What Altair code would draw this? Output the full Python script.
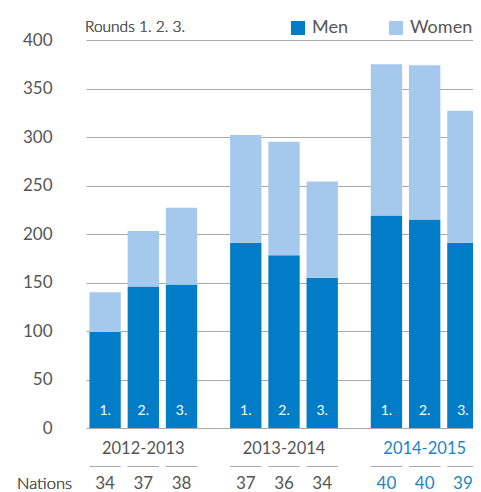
import altair as alt
import pandas as pd

seasons = ["2012-2013", "2013-2014", "2014-2015"]
rounds = ["1.", "2.", "3."]
bar_season = ["2012-2013"] * 3 + ["2013-2014"] * 3 + ["2014-2015"] * 3
bar_round = rounds * 3
men = [99, 146, 148, 191, 178, 155, 219, 215, 191]
women = [41, 57, 79, 111, 117, 99, 156, 159, 136]
nations = [34, 37, 38, 37, 36, 34, 40, 40, 39]
sexes = ["Men", "Women"]

MEN_C = "#007dc6"
WOMEN_C = "#a5c9ec"
GREY = "#555555"
BLUE = "#1a86c8"
FONT = "Lato"

rows = []
for s, r, m, w in zip(bar_season, bar_round, men, women):
    rows.append({"season": s, "round": r, "sex": "Men", "k": 0, "value": m})
    rows.append({"season": s, "round": r, "sex": "Women", "k": 1, "value": w})
df = pd.DataFrame(rows)
bars_df = pd.DataFrame({"season": bar_season, "round": bar_round, "nations": nations})
seasons_df = pd.DataFrame({"season": seasons})

W, H = 415, 388

xenc = alt.X("season:N", sort=seasons,
             scale=alt.Scale(range=[28, 424], paddingInner=0.185, paddingOuter=0),
             axis=None)
xoff = alt.XOffset("round:N", sort=rounds,
                   scale=alt.Scale(paddingInner=0.18, paddingOuter=0.09))

bars = alt.Chart(df).mark_bar(clip=True).encode(
    x=xenc,
    xOffset=xoff,
    y=alt.Y("value:Q", stack="zero",
            scale=alt.Scale(domain=[0, 400], nice=False),
            axis=alt.Axis(values=list(range(0, 401, 50)), title=None, domain=False,
                          ticks=False, labelPadding=6, labelFontSize=17,
                          labelColor=GREY, labelFont=FONT, gridColor="#aaaaaa",
                          gridWidth=1)),
    color=alt.Color("sex:N", sort=sexes,
                    scale=alt.Scale(domain=sexes, range=[MEN_C, WOMEN_C]),
                    legend=alt.Legend(title=None, orient="none", legendX=231, legendY=-21,
                                      direction="horizontal", symbolType="square",
                                      symbolSize=196, symbolStrokeWidth=0,
                                      labelFontSize=18, labelColor=GREY, labelFont=FONT,
                                      labelOffset=5, columnPadding=39, padding=0)),
    order=alt.Order("k:Q", sort="ascending"),
)

round_labels = alt.Chart(bars_df).mark_text(
    color="white", fontSize=14, font=FONT, dy=-17, baseline="middle"
).encode(x=xenc, xOffset=xoff, y=alt.datum(0), text="round:N")

group_labels = alt.Chart(seasons_df).mark_text(
    fontSize=16.5, font=FONT, baseline="alphabetic"
).encode(
    x=xenc, y=alt.value(414), text="season:N",
    color=alt.condition(alt.datum.season == "2014-2015", alt.value(BLUE), alt.value(GREY)),
)

sep_lines = alt.Chart(bars_df).mark_bar(color="#aaaaaa").encode(
    x=xenc, xOffset=xoff, y=alt.value(426), y2=alt.value(427)
)

nation_nums = alt.Chart(bars_df).mark_text(
    fontSize=17, font=FONT, baseline="alphabetic"
).encode(
    x=xenc, xOffset=xoff, y=alt.value(449), text="nations:Q",
    color=alt.condition(alt.datum.season == "2014-2015", alt.value(BLUE), alt.value(GREY)),
)

nations_lbl = alt.Chart(seasons_df).mark_text(
    text="Nations", fontSize=16.5, font=FONT, fontWeight=300, color=GREY, align="left",
    baseline="alphabetic"
).encode(x=alt.value(-41), y=alt.value(449))

rounds_lbl = alt.Chart(seasons_df).mark_text(
    text="Rounds 1. 2. 3.", fontSize=15.5, font=FONT, fontWeight=300, color=GREY,
    align="left", baseline="alphabetic"
).encode(x=alt.value(27), y=alt.value(-8))

chart = alt.layer(
    bars, round_labels, group_labels, sep_lines, nation_nums, nations_lbl, rounds_lbl
).properties(
    width=W, height=H,
    autosize=alt.AutoSizeParams(type="none"),
    padding={"left": 50, "top": 32, "right": 0, "bottom": 64},
).configure_view(stroke=None)

chart.save("out.html", embed_options={"renderer": "svg", "actions": False})
